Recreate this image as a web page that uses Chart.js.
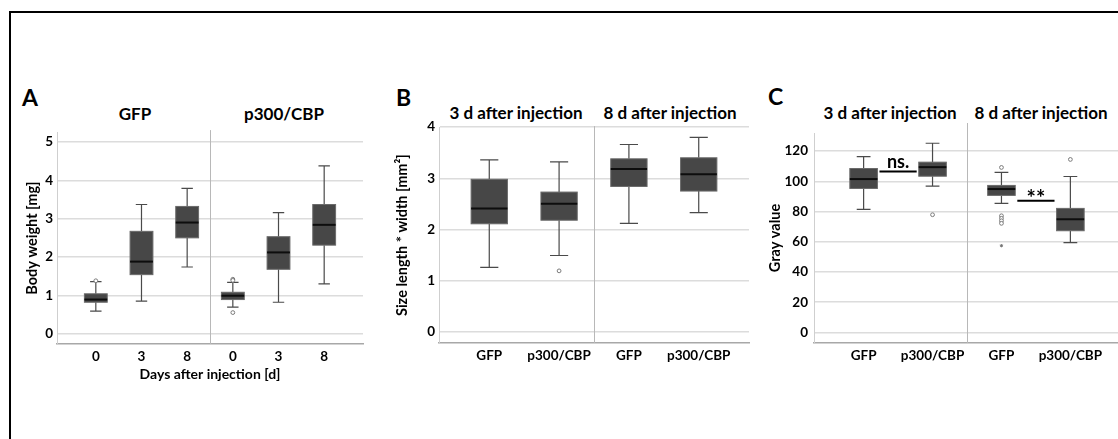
<!DOCTYPE html>
<html>
<head>
<meta charset="utf-8">
<title>Box plots</title>
<script src="https://cdn.jsdelivr.net/npm/chart.js@4.4.1/dist/chart.umd.min.js"></script>
<style>
  html, body { margin: 0; padding: 0; background: #fff; }
  body { width: 1118px; height: 439px; overflow: hidden; position: relative; font-family: Lato, 'DejaVu Sans', sans-serif; color: #000; }
  .frame { position: absolute; left: 9px; top: 11px; width: 1300px; height: 600px; border-top: 2px solid #000; border-left: 2px solid #000; }
  .panel { position: absolute; }
  .letter { position: absolute; font-weight: bold; font-size: 23px; line-height: 1; transform: translateY(-50%); }
  .group { position: absolute; font-weight: bold; font-size: 17px; line-height: 1; white-space: nowrap; transform: translate(-50%, -50%); }
</style>
</head>
<body>
<div class="frame"></div>

<div class="letter" style="left:22px; top:97px;">A</div>
<div class="group" style="left:135px; top:113px;">GFP</div>
<div class="group" style="left:284px; top:113px;">p300/CBP</div>

<div class="letter" style="left:396px; top:97px;">B</div>
<div class="group" style="left:516px; top:112px;">3 d after injection</div>
<div class="group" style="left:670px; top:112px;">8 d after injection</div>

<div class="letter" style="left:768px; top:96px;">C</div>
<div class="group" style="left:890px; top:112px;">3 d after injection</div>
<div class="group" style="left:1041px; top:112px;">8 d after injection</div>

<div class="panel" style="left:0px; top:120px; width:370px; height:270px;"><canvas id="chartA"></canvas></div>
<div class="panel" style="left:370px; top:115px; width:390px; height:275px;"><canvas id="chartB"></canvas></div>
<div class="panel" style="left:745px; top:115px; width:385px; height:275px;"><canvas id="chartC"></canvas></div>

<script>
// ---- Panel A: body weight [mg] by day ----
const aLabels = ['0', '3', '8', '0', '3', '8'];
const aMin = [0.59, 0.85, 1.74, 0.69, 0.82, 1.30];
const aQ1 = [0.82, 1.54, 2.50, 0.89, 1.68, 2.31];
const aMed = [0.89, 1.88, 2.90, 0.99, 2.12, 2.84];
const aQ3 = [1.04, 2.67, 3.32, 1.08, 2.53, 3.37];
const aMax = [1.36, 3.37, 3.79, 1.34, 3.16, 4.38];
const aOutliers = [[1.38], [], [], [1.42, 1.39, 0.55], [], []];

// ---- Panel B: size length * width [mm²] ----
const bLabels = ['GFP', 'p300/CBP', 'GFP', 'p300/CBP'];
const bMin = [1.26, 1.49, 2.12, 2.33];
const bQ1 = [2.11, 2.18, 2.84, 2.75];
const bMed = [2.41, 2.50, 3.18, 3.08];
const bQ3 = [2.98, 2.73, 3.38, 3.40];
const bMax = [3.36, 3.32, 3.66, 3.80];
const bOutliers = [[], [1.19], [], []];

// ---- Panel C: gray value ----
const cLabels = ['GFP', 'p300/CBP', 'GFP', 'p300/CBP'];
const cMin = [81.4, 96.8, 85.4, 59.4];
const cQ1 = [95.3, 103.4, 90.7, 67.3];
const cMed = [101.5, 109.4, 94.9, 74.9];
const cQ3 = [108.5, 112.7, 97.3, 82.1];
const cMax = [116.4, 125.2, 106.0, 103.2];
const cOutliers = [[], [77.9], [109.2, 77.2, 75.5, 73.9, 72.2], [114.5]];
const cExtremes = [[], [], [57.4], []];

// significance brackets in panel C
const sigLeft = [0, 2];
const sigRight = [1, 3];
const sigY = [106.5, 87.1];
const sigText = ['ns.', '**'];

function toPoints(list) {
  return list.flatMap((vals, i) => vals.map(v => ({ x: i, y: v })));
}

// draws the boxes, whiskers, group divider and brackets from the scales
function makeBoxPlugin(cfg) {
  return {
    id: 'boxes',
    beforeDatasetsDraw(chart) {
      const { ctx, chartArea } = chart;
      const x = chart.scales.x;
      const y = chart.scales.y;
      ctx.save();

      // divider between the two groups
      const dx = Math.round(x.getPixelForValue(cfg.divider)) + 0.5;
      ctx.strokeStyle = '#b8b8b8';
      ctx.lineWidth = 1;
      ctx.beginPath();
      ctx.moveTo(dx, chartArea.top - cfg.dividerLift);
      ctx.lineTo(dx, chartArea.bottom);
      ctx.stroke();

      cfg.med.forEach((m, i) => {
        const left = x.getPixelForValue(i - cfg.boxWidth / 2);
        const right = x.getPixelForValue(i + cfg.boxWidth / 2);
        const cx = x.getPixelForValue(i);
        const capL = x.getPixelForValue(i - cfg.boxWidth / 4);
        const capR = x.getPixelForValue(i + cfg.boxWidth / 4);
        const yMin = y.getPixelForValue(cfg.min[i]);
        const yMax = y.getPixelForValue(cfg.max[i]);
        const yQ1 = y.getPixelForValue(cfg.q1[i]);
        const yQ3 = y.getPixelForValue(cfg.q3[i]);
        const yMed = y.getPixelForValue(m);

        // whiskers
        ctx.strokeStyle = '#4a4a4a';
        ctx.lineWidth = 1.2;
        ctx.beginPath();
        ctx.moveTo(cx, yMax); ctx.lineTo(cx, yQ3);
        ctx.moveTo(cx, yQ1); ctx.lineTo(cx, yMin);
        ctx.moveTo(capL, yMax); ctx.lineTo(capR, yMax);
        ctx.moveTo(capL, yMin); ctx.lineTo(capR, yMin);
        ctx.stroke();

        // box
        ctx.fillStyle = '#474747';
        ctx.fillRect(left, yQ3, right - left, yQ1 - yQ3);
        ctx.strokeStyle = '#6a6a6a';
        ctx.lineWidth = 1;
        ctx.strokeRect(left, yQ3, right - left, yQ1 - yQ3);

        // median
        ctx.strokeStyle = '#0d0d0d';
        ctx.lineWidth = 2;
        ctx.beginPath();
        ctx.moveTo(left, yMed); ctx.lineTo(right, yMed);
        ctx.stroke();
      });

      (cfg.sig || []).forEach(s => {
        const x1 = x.getPixelForValue(s.from + 0.23);
        const x2 = x.getPixelForValue(s.to - 0.23);
        const ys = y.getPixelForValue(s.y);
        const stars = s.text === '**';
        ctx.strokeStyle = '#000';
        ctx.lineWidth = 2;
        ctx.beginPath();
        ctx.moveTo(x1, ys); ctx.lineTo(x2, ys);
        ctx.stroke();
        ctx.fillStyle = '#000';
        ctx.font = stars ? 'bold 22px Lato' : 'bold 18px Lato';
        ctx.textAlign = 'center';
        ctx.textBaseline = 'alphabetic';
        ctx.fillText(s.text, (x1 + x2) / 2, ys + (stars ? 5 : -4));
      });

      ctx.restore();
    }
  };
}

function makeChart(id, cfg) {
  const datasets = [{
    data: toPoints(cfg.outliers),
    pointStyle: 'circle',
    pointRadius: 1.9,
    borderColor: '#7a7a7a',
    backgroundColor: '#fff',
    borderWidth: 1
  }];
  if (cfg.extremes) {
    datasets.push({
      data: toPoints(cfg.extremes),
      pointStyle: 'star',
      pointRadius: 1.6,
      borderColor: '#777',
      backgroundColor: '#777',
      borderWidth: 1
    });
  }

  const tickFont = { family: 'Lato', weight: 'bold', size: 13.5 };
  const xScale = {
    type: 'linear',
    min: cfg.xMin,
    max: cfg.xMax,
    grid: { display: false, drawTicks: false },
    border: { display: true, color: '#a8a8a8', width: 1.5 },
    ticks: {
      stepSize: 1,
      includeBounds: false,
      autoSkip: false,
      maxRotation: 0,
      padding: 5,
      color: '#000',
      font: tickFont,
      callback: v => cfg.labels[v] !== undefined ? cfg.labels[v] : ''
    },
    afterFit: s => { s.height = cfg.xHeight; }
  };
  if (cfg.xTitle) {
    xScale.title = {
      display: true,
      text: cfg.xTitle,
      color: '#000',
      font: { family: 'Lato', weight: 'bold', size: 14 },
      padding: { top: 0, bottom: cfg.xTitlePad }
    };
  }

  return new Chart(document.getElementById(id), {
    type: 'scatter',
    data: { datasets },
    options: {
      responsive: true,
      maintainAspectRatio: false,
      animation: false,
      layout: { padding: { left: 0, right: cfg.padRight, top: cfg.padTop, bottom: 0 } },
      plugins: { legend: { display: false }, tooltip: { enabled: false } },
      scales: {
        x: xScale,
        y: {
          min: cfg.yMin,
          max: cfg.yMax,
          grid: { color: '#dcdcdc', lineWidth: 1.5, drawTicks: false },
          border: { display: true, color: '#cfcfcf', width: 1 },
          ticks: {
            stepSize: cfg.yStep,
            includeBounds: false,
            padding: cfg.yTickPad,
            color: '#000',
            font: tickFont
          },
          title: {
            display: true,
            text: cfg.yTitle,
            color: '#000',
            font: { family: 'Lato', weight: 'bold', size: 14.5 },
            padding: { top: cfg.yTitlePad, bottom: 0 }
          },
          afterFit: s => { s.width = cfg.yWidth; }
        }
      }
    },
    plugins: [makeBoxPlugin(cfg)]
  });
}

makeChart('chartA', {
  labels: aLabels, min: aMin, q1: aQ1, med: aMed, q3: aQ3, max: aMax, outliers: aOutliers,
  xMin: -0.85, xMax: 5.85, yMin: -0.27, yMax: 5.26, yStep: 1,
  yTitle: 'Body weight [mg]', xTitle: 'Days after injection [d]',
  boxWidth: 0.5, divider: 2.5, dividerLift: 2,
  padTop: 7, padRight: 7, yWidth: 57, xHeight: 46, yTitlePad: 24, xTitlePad: 7, yTickPad: 4
});

makeChart('chartB', {
  labels: bLabels, min: bMin, q1: bQ1, med: bMed, q3: bQ3, max: bMax, outliers: bOutliers,
  xMin: -0.72, xMax: 3.72, yMin: -0.22, yMax: 4.0, yStep: 1,
  yTitle: 'Size length * width [mm²]',
  boxWidth: 0.52, divider: 1.5, dividerLift: 1,
  padTop: 6, padRight: 11, yWidth: 69, xHeight: 47, yTitlePad: 24, yTickPad: 4
});

makeChart('chartC', {
  labels: cLabels, min: cMin, q1: cQ1, med: cMed, q3: cQ3, max: cMax, outliers: cOutliers, extremes: cExtremes,
  xMin: -0.72, xMax: 3.72, yMin: -7, yMax: 132, yStep: 20,
  yTitle: 'Gray value',
  boxWidth: 0.4, divider: 1.5, dividerLift: 10,
  sig: sigText.map((t, i) => ({ from: sigLeft[i], to: sigRight[i], y: sigY[i], text: t })),
  padTop: 18, padRight: 10, yWidth: 69, xHeight: 47, yTitlePad: 22, yTickPad: 6
});
</script>
</body>
</html>
